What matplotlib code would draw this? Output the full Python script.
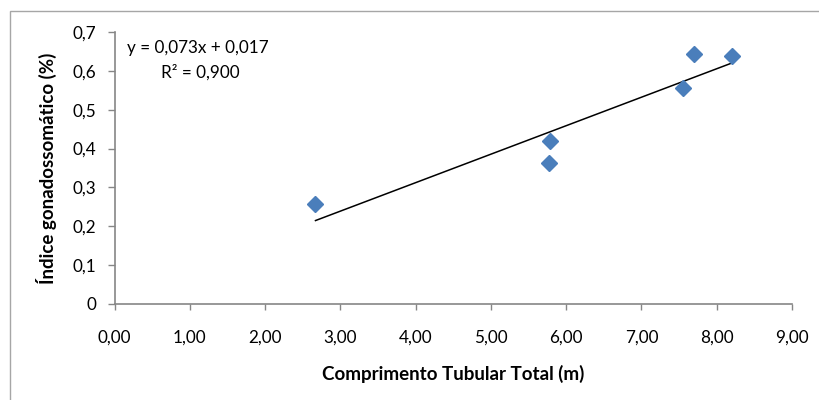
import matplotlib
matplotlib.use("Agg")
import matplotlib.pyplot as plt
import numpy as np
from matplotlib.patches import Rectangle
from matplotlib.ticker import FuncFormatter, MultipleLocator

comprimento = [2.67, 5.79, 5.77, 7.55, 7.70, 8.20]
igs = [0.256, 0.419, 0.363, 0.557, 0.643, 0.639]
eq_text = "y = 0,073x + 0,017"
r2_text = "R² = 0,900"
x_label = "Comprimento Tubular Total (m)"
y_label = "Índice gonadossomático (%)"

plt.rcParams['font.family'] = ['Lato', 'DejaVu Sans']

fig = plt.figure(figsize=(8.19, 4.0), dpi=100)
fig.patch.set_facecolor('white')
fig.patches.append(Rectangle((10/819, -0.1), 1.2, 1 - 11/400 + 0.1, transform=fig.transFigure,
                             fill=False, edgecolor='#a6a6a6', linewidth=1.0))

ax = fig.add_axes([114.5/819, 1 - 303.5/400, (792 - 114.5)/819, (303.5 - 32.3)/400])

x = np.array(comprimento)
y = np.array(igs)
slope, intercept = np.polyfit(x, y, 1)
xs = np.array([x.min(), x.max()])
ax.plot(xs, slope*xs + intercept, color='black', linewidth=1.1, zorder=2)
ax.plot(x, y, linestyle='none', marker='D', markersize=8.5, color='#4a7ebb',
        markeredgecolor='#4a7ebb', zorder=3)

ax.set_xlim(0, 9)
ax.set_ylim(0, 0.7)
ax.xaxis.set_major_locator(MultipleLocator(1))
ax.yaxis.set_major_locator(MultipleLocator(0.1))
ax.xaxis.set_major_formatter(FuncFormatter(lambda v, p: f"{v:.2f}".replace('.', ',')))
ax.yaxis.set_major_formatter(FuncFormatter(lambda v, p: '0' if abs(v) < 1e-9 else f"{v:.1f}".replace('.', ',')))

for s in ['top', 'right']:
    ax.spines[s].set_visible(False)
for s in ['left', 'bottom']:
    ax.spines[s].set_color('#868686')
    ax.spines[s].set_linewidth(1.2)
ax.tick_params(axis='x', direction='out', length=4, width=1, color='#868686',
               labelsize=12.3, pad=15, labelcolor='black')
ax.tick_params(axis='y', direction='out', length=5, width=1, color='#868686',
               labelsize=12.3, pad=8, labelcolor='black')

ax.set_xlabel(x_label, fontsize=13.5, fontweight='bold', labelpad=14)
ax.set_ylabel(y_label, fontsize=13.5, fontweight='bold', labelpad=11)

fig.text(127/819, 1 - 48/400, eq_text, fontsize=12.3, ha='left', va='center')
fig.text(200/819, 1 - 72/400, r2_text, fontsize=12.3, ha='center', va='center')

fig.savefig('out.png', dpi=100)
